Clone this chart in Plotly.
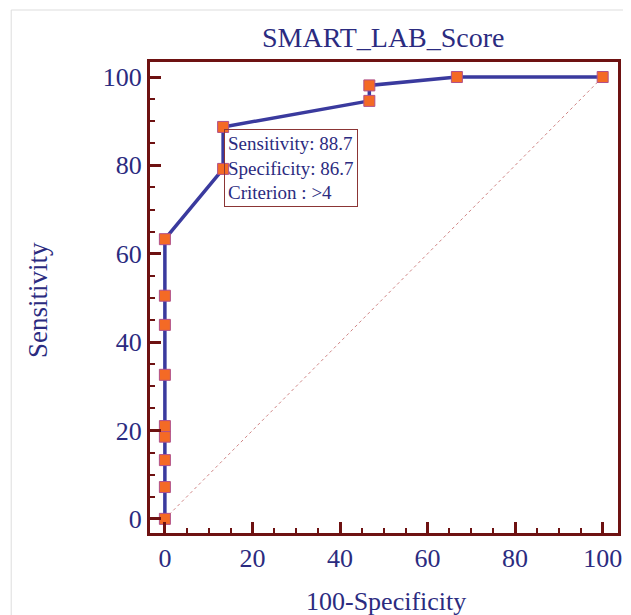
import plotly.graph_objects as go

# ROC points (100-Specificity, Sensitivity)
fpr = [0, 0, 0, 0, 0, 0, 0, 0, 0, 13.3, 13.3, 46.7, 46.7, 66.7, 100]
sens = [0, 7.2, 13.3, 18.6, 21.0, 32.6, 43.9, 50.5, 63.3, 79.2, 88.7, 94.6, 98.1, 100, 100]
diag_x = [0, 100]
diag_y = [0, 100]
tick_vals = [0, 20, 40, 60, 80, 100]
info_lines = ["Sensitivity: 88.7", "Specificity: 86.7", "Criterion : >4"]

navy = "#2b2b80"
frame = "#6e1212"
font_family = "Liberation Serif, Times New Roman, serif"

fig = go.Figure()
fig.add_trace(go.Scatter(x=diag_x, y=diag_y, mode="lines",
                         line=dict(color="#d08585", width=1, dash="dot"),
                         hoverinfo="skip", showlegend=False))
fig.add_trace(go.Scatter(x=fpr, y=sens, mode="lines+markers",
                         line=dict(color="#3a3a9e", width=3.5),
                         marker=dict(symbol="square", size=11, color="#f46a25",
                                     line=dict(color="#b0508a", width=1)),
                         showlegend=False))

fig.add_annotation(x=13.6, y=88.2, xref="x", yref="y", xanchor="left", yanchor="top",
                   text="<br>".join(info_lines), showarrow=False, align="left",
                   font=dict(family=font_family, size=19, color=navy),
                   bordercolor="#8b3535", borderwidth=1, borderpad=3,
                   bgcolor="rgba(255,255,255,0)")

# titles
fig.add_annotation(x=0.498, y=1.051, xref="paper", yref="paper", showarrow=False,
                   xanchor="center", yanchor="middle", text="SMART_LAB_Score",
                   font=dict(family=font_family, size=28, color=navy))
fig.add_annotation(x=0.504, y=-0.1444, xref="paper", yref="paper", showarrow=False,
                   xanchor="center", yanchor="middle", text="100-Specificity",
                   font=dict(family=font_family, size=26, color=navy))
fig.add_annotation(x=-0.2394, y=0.4947, xref="paper", yref="paper", showarrow=False,
                   xanchor="center", yanchor="middle", text="Sensitivity", textangle=-90,
                   font=dict(family=font_family, size=27, color=navy))

# light grey outer frame
fig.add_shape(type="rect", xref="paper", yref="paper",
              x0=-0.2966, x1=1.2, y0=-0.4, y1=1.1104,
              line=dict(color="#dddddd", width=1), fillcolor="rgba(0,0,0,0)", layer="below")

axis_common = dict(
    showline=True, mirror=True, linecolor=frame, linewidth=3,
    ticks="inside", ticklen=11, tickwidth=2.5, tickcolor=frame,
    tickvals=tick_vals, showgrid=False, zeroline=False,
    tickfont=dict(family=font_family, size=26, color=navy),
    minor=dict(dtick=5, ticks="inside", ticklen=5, tickwidth=2, tickcolor=frame, showgrid=False),
)

fig.update_layout(
    width=623, height=607,
    margin=dict(l=142, r=9, t=54, b=82),
    paper_bgcolor="white", plot_bgcolor="white",
    xaxis=dict(range=[-3.4, 103.5], **axis_common),
    yaxis=dict(range=[-3.2, 103.4], **axis_common),
)

fig.write_html("out.html")
